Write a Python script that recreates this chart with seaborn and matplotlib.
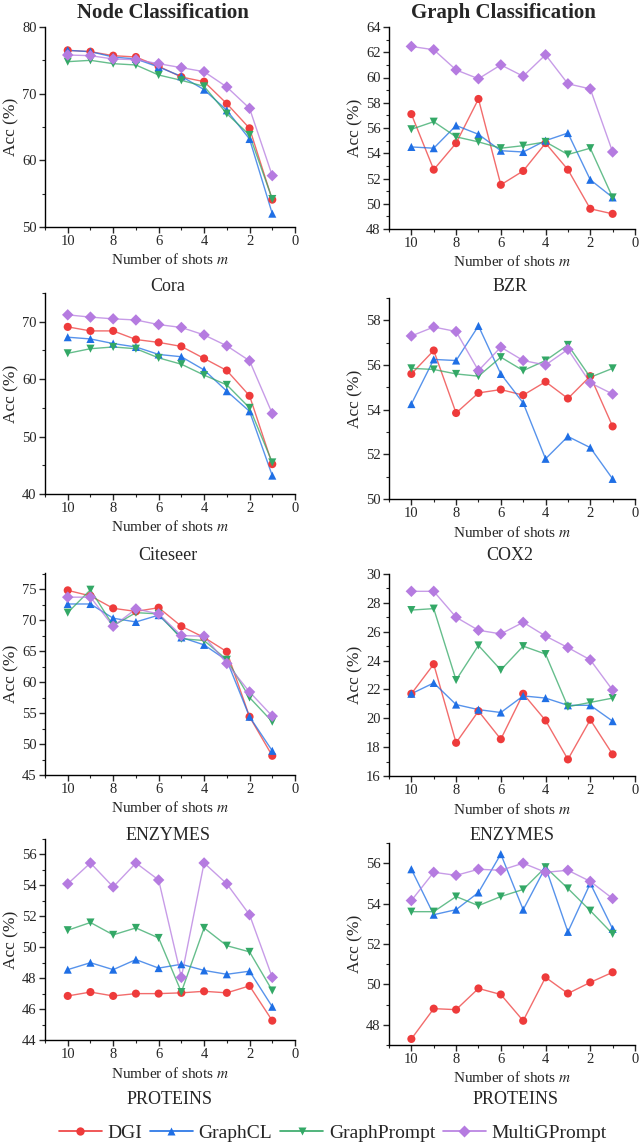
import numpy as np
import pandas as pd
import seaborn as sns
import matplotlib.pyplot as plt
from matplotlib.lines import Line2D
from matplotlib.ticker import MultipleLocator

sns.set_style('ticks')
plt.rcParams['font.family'] = ['Liberation Serif', 'DejaVu Serif']
plt.rcParams['mathtext.fontset'] = 'stix'

shots = [10, 9, 8, 7, 6, 5, 4, 3, 2, 1]
methods = ['DGI', 'GraphCL', 'GraphPrompt', 'MultiGPrompt']
colors = ['#ee3b3b', '#1f6fe5', '#33a866', '#b57be0']
markers = ['o', '^', 'v', 'D']

# Node classification (left column)
node_top = {
    'DGI':          [76.5, 76.3, 75.7, 75.5, 74.1, 72.5, 71.8, 68.5, 64.8, 54.1],
    'GraphCL':      [76.5, 76.3, 75.5, 75.2, 74.0, 72.6, 70.6, 67.5, 63.2, 52.0],
    'GraphPrompt':  [74.8, 75.0, 74.5, 74.3, 72.8, 72.0, 71.1, 67.0, 63.8, 54.2],
    'MultiGPrompt': [75.8, 75.7, 75.2, 75.1, 74.5, 73.9, 73.3, 71.0, 67.8, 57.7],
}
cora = {
    'DGI':          [69.1, 68.4, 68.4, 66.9, 66.4, 65.7, 63.6, 61.5, 57.1, 45.2],
    'GraphCL':      [67.3, 67.0, 66.2, 65.6, 64.3, 63.9, 61.6, 57.9, 54.4, 43.2],
    'GraphPrompt':  [64.5, 65.3, 65.6, 65.3, 63.7, 62.6, 60.7, 59.0, 55.0, 45.5],
    'MultiGPrompt': [71.2, 70.8, 70.5, 70.3, 69.5, 69.0, 67.7, 65.8, 63.2, 54.0],
}
citeseer = {
    'DGI':          [74.8, 73.9, 71.9, 71.4, 72.0, 69.0, 67.2, 64.9, 54.4, 48.1],
    'GraphCL':      [72.6, 72.6, 70.3, 69.7, 70.8, 67.2, 66.0, 63.5, 54.4, 48.9],
    'GraphPrompt':  [71.2, 74.9, 69.1, 71.2, 71.0, 67.0, 66.7, 63.6, 57.5, 53.6],
    'MultiGPrompt': [73.7, 73.7, 69.0, 71.8, 71.0, 67.5, 67.4, 63.0, 58.4, 54.5],
}
enzymes_node = {
    'DGI':          [46.85, 47.1, 46.85, 47.0, 47.0, 47.05, 47.15, 47.05, 47.5, 45.25],
    'GraphCL':      [48.55, 49.0, 48.55, 49.2, 48.65, 48.9, 48.5, 48.25, 48.45, 46.15],
    'GraphPrompt':  [51.1, 51.6, 50.8, 51.25, 50.6, 47.1, 51.25, 50.1, 49.7, 47.2],
    'MultiGPrompt': [54.1, 55.45, 53.9, 55.45, 54.35, 48.05, 55.45, 54.1, 52.1, 48.05],
}

# Graph classification (right column)
graph_top = {
    'DGI':          [57.1, 52.7, 54.8, 58.3, 51.5, 52.6, 54.8, 52.7, 49.6, 49.2],
    'GraphCL':      [54.5, 54.4, 56.2, 55.5, 54.2, 54.1, 55.0, 55.6, 51.9, 50.5],
    'GraphPrompt':  [55.9, 56.5, 55.3, 54.9, 54.4, 54.6, 54.9, 53.9, 54.4, 50.5],
    'MultiGPrompt': [62.46, 62.2, 60.6, 59.9, 61.0, 60.1, 61.8, 59.5, 59.1, 54.1],
}
bzr = {
    'DGI':          [55.6, 56.65, 53.85, 54.75, 54.9, 54.65, 55.25, 54.5, 55.5, 53.25],
    'GraphCL':      [54.25, 56.25, 56.2, 57.75, 55.6, 54.3, 51.8, 52.8, 52.3, 50.9],
    'GraphPrompt':  [55.85, 55.8, 55.6, 55.5, 56.35, 55.75, 56.2, 56.9, 55.45, 55.85],
    'MultiGPrompt': [57.3, 57.7, 57.5, 55.75, 56.8, 56.2, 56.0, 56.7, 55.2, 54.7],
}
cox2 = {
    'DGI':          [21.7, 23.75, 18.3, 20.5, 18.55, 21.7, 19.85, 17.15, 19.9, 17.5],
    'GraphCL':      [21.7, 22.45, 20.95, 20.6, 20.4, 21.55, 21.4, 20.9, 20.9, 19.8],
    'GraphPrompt':  [27.5, 27.6, 22.65, 25.05, 23.35, 25.0, 24.45, 20.8, 21.1, 21.4],
    'MultiGPrompt': [28.8, 28.8, 27.0, 26.1, 25.85, 26.65, 25.7, 24.9, 24.05, 21.95],
}
enzymes_graph = {
    'DGI':          [47.3, 48.8, 48.75, 49.8, 49.5, 48.2, 50.35, 49.55, 50.1, 50.6],
    'GraphCL':      [55.7, 53.45, 53.7, 54.55, 56.45, 53.7, 55.8, 52.6, 55.0, 52.75],
    'GraphPrompt':  [53.6, 53.6, 54.35, 53.9, 54.35, 54.7, 55.8, 54.75, 53.65, 52.5],
    'MultiGPrompt': [54.15, 55.55, 55.4, 55.7, 55.65, 56.0, 55.55, 55.65, 55.1, 54.25],
}

W, H = 640, 1145
fig = plt.figure(figsize=(W / 100, H / 100), dpi=100)


def make_ax(x0, x1, y_top, y_bot):
    return fig.add_axes([x0 / W, 1 - y_bot / H, (x1 - x0) / W, (y_bot - y_top) / H])


# (data, x-range px, y-range px, ylim, major, minor)
panels = [
    (node_top, (45, 295), (27, 227), (50, 80), 10, 5),
    (graph_top, (389, 635), (27, 229), (48, 64), 2, 1),
    (cora, (45, 295), (293, 494), (40, 75), 10, 5),
    (bzr, (389, 635), (298, 499), (50, 59), 2, 1),
    (citeseer, (45, 295), (573, 775), (45, 77.6), 5, 2.5),
    (cox2, (389, 635), (574, 776), (16, 30), 2, 1),
    (enzymes_node, (45, 295), (839, 1040), (44, 57), 2, 1),
    (enzymes_graph, (389, 635), (843, 1045), (47, 57), 2, 1),
]

palette = dict(zip(methods, colors))
marker_map = dict(zip(methods, markers))

for data, xr, yr, ylim, major, minor in panels:
    ax = make_ax(xr[0], xr[1], yr[0], yr[1])
    df = pd.DataFrame([(m, s, v) for m in methods for s, v in zip(shots, data[m])],
                      columns=['method', 'shots', 'acc'])
    sns.lineplot(data=df, x='shots', y='acc', hue='method', palette=palette,
                 linewidth=1.0, alpha=0.75, legend=False, ax=ax)
    sns.scatterplot(data=df, x='shots', y='acc', hue='method', style='method',
                    palette=palette, markers=marker_map, s=34, edgecolor='none',
                    legend=False, ax=ax, zorder=3)
    ax.set_xlim(11, 0)
    ax.set_ylim(*ylim)
    ax.xaxis.set_major_locator(MultipleLocator(2))
    ax.xaxis.set_minor_locator(MultipleLocator(1))
    ax.yaxis.set_major_locator(MultipleLocator(major))
    ax.yaxis.set_minor_locator(MultipleLocator(minor))
    ax.tick_params(which='major', direction='out', length=4, width=1, labelsize=10.5, pad=2)
    ax.tick_params(which='minor', direction='out', length=2, width=0.8)
    for sp in ['top', 'right']:
        ax.spines[sp].set_visible(False)
    for sp in ['left', 'bottom']:
        ax.spines[sp].set_linewidth(1.0)
        ax.spines[sp].set_color('black')
    ax.set_xlabel('Number of shots $m$', fontsize=11, labelpad=3)
    ax.set_ylabel('Acc (%)', fontsize=12.5, labelpad=2)
    ax.grid(False)

# Column headers and dataset names
fig.text(163 / W, 1 - 13 / H, 'Node Classification', ha='center', va='center',
         fontsize=15, fontweight='bold')
fig.text(503 / W, 1 - 13 / H, 'Graph Classification', ha='center', va='center',
         fontsize=15, fontweight='bold')
names = [('Cora', 168, 287), ('BZR', 510, 287), ('Citeseer', 168, 555),
         ('COX2', 510, 555), ('ENZYMES', 168, 835), ('ENZYMES', 512, 835),
         ('PROTEINS', 170, 1099), ('PROTEINS', 516, 1099)]
for txt, x, y in names:
    fig.text(x / W, 1 - y / H, txt, ha='center', va='center', fontsize=13)

handles = [Line2D([0], [0], color=c, marker=mk, markersize=6, linewidth=1.2,
                  markeredgecolor='none') for c, mk in zip(colors, markers)]
fig.legend(handles, methods, loc='center', bbox_to_anchor=(0.52, 1 - 1133 / H),
           ncol=4, frameon=False, fontsize=14, handlelength=2.2, handletextpad=0.3,
           columnspacing=0.4)

fig.savefig('out.png', dpi=100)
